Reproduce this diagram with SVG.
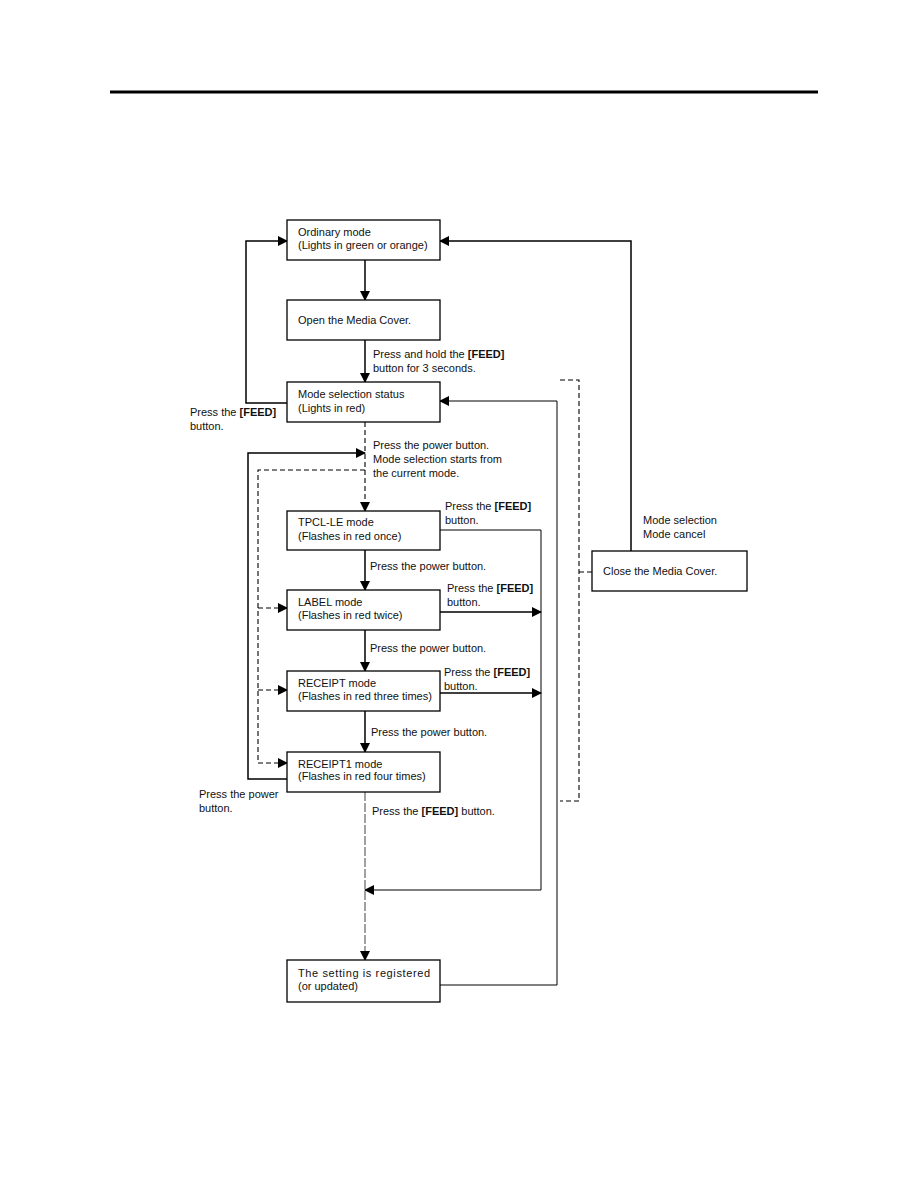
<svg xmlns="http://www.w3.org/2000/svg" width="918" height="1188" viewBox="0 0 918 1188">
<defs>
<marker id="ah" markerWidth="10" markerHeight="10" refX="9" refY="5" orient="auto" markerUnits="userSpaceOnUse">
<path d="M0,0 L10,5 L0,10 Z" fill="#000"/>
</marker>
<style>
text{font-family:"Liberation Sans",Arial,sans-serif;font-size:11px;fill:#111}
.b{font-weight:bold}
rect{fill:#fff;stroke:#000;stroke-width:1.3}
.s{fill:none;stroke:#000;stroke-width:1.5}
.t{fill:none;stroke:#000;stroke-width:1}
.d{fill:none;stroke:#000;stroke-width:1.1;stroke-dasharray:5,3}
.dd{fill:none;stroke:#111;stroke-width:0.8;stroke-dasharray:9,2}
</style>
</defs>
<rect x="0" y="0" width="918" height="1188" style="fill:#fff;stroke:none"/>
<line x1="110" y1="92" x2="818" y2="92" stroke="#000" stroke-width="3"/>

<g id="connectors">
<line class="s" x1="365" y1="260" x2="365" y2="300" marker-end="url(#ah)"/>
<line class="s" x1="365" y1="340" x2="365" y2="382" marker-end="url(#ah)"/>
<polyline class="s" points="287,403 246,403 246,241 287,241" marker-end="url(#ah)"/>
<polyline class="s" points="631,551 631,241 440,241" marker-end="url(#ah)"/>
<polyline class="t" points="440,985 557,985 557,401 440,401" marker-end="url(#ah)"/>
<polyline class="d" points="560,380 579,380 579,801 560,801"/>
<line class="d" x1="579" y1="572" x2="592" y2="572"/>
<line class="d" x1="365" y1="422" x2="365" y2="511" marker-end="url(#ah)"/>
<polyline class="d" points="365,470 258,470 258,763 287,763" marker-end="url(#ah)"/>
<line class="d" x1="258" y1="608" x2="287" y2="608" marker-end="url(#ah)"/>
<line class="d" x1="258" y1="690" x2="287" y2="690" marker-end="url(#ah)"/>
<polyline class="s" points="287,779 248,779 248,453 365,453" marker-end="url(#ah)"/>
<line class="s" x1="365" y1="550" x2="365" y2="590" marker-end="url(#ah)"/>
<line class="s" x1="365" y1="630" x2="365" y2="671" marker-end="url(#ah)"/>
<line class="s" x1="365" y1="711" x2="365" y2="752" marker-end="url(#ah)"/>
<polyline class="t" points="440,530 541,530 541,890 365,890" marker-end="url(#ah)"/>
<line class="s" x1="440" y1="612" x2="541" y2="612" marker-end="url(#ah)"/>
<line class="s" x1="440" y1="693" x2="541" y2="693" marker-end="url(#ah)"/>
<line class="dd" x1="365" y1="792" x2="365" y2="960" marker-end="url(#ah)"/>
<text x="373" y="358">Press and hold the <tspan class="b">[FEED]</tspan></text>
<text x="373" y="372">button for 3 seconds.</text>
<text x="190" y="416">Press the <tspan class="b">[FEED]</tspan></text>
<text x="190" y="430">button.</text>
<text x="643" y="524">Mode selection</text>
<text x="643" y="538">Mode cancel</text>
<text x="373" y="449">Press the power button.</text>
<text x="373" y="463">Mode selection starts from</text>
<text x="373" y="477">the current mode.</text>
<text x="445" y="510">Press the <tspan class="b">[FEED]</tspan></text>
<text x="445" y="524">button.</text>
<text x="370" y="570">Press the power button.</text>
<text x="447" y="592">Press the <tspan class="b">[FEED]</tspan></text>
<text x="447" y="606">button.</text>
<text x="370" y="652">Press the power button.</text>
<text x="444" y="676">Press the <tspan class="b">[FEED]</tspan></text>
<text x="444" y="690">button.</text>
<text x="371" y="736">Press the power button.</text>
<text x="199" y="798">Press the power</text>
<text x="199" y="812">button.</text>
<text x="372" y="815">Press the <tspan class="b">[FEED]</tspan> button.</text>
</g>

<g id="ordinary"><rect x="287" y="220" width="153" height="40"/><text x="298" y="236">Ordinary mode</text><text x="298" y="249">(Lights in green or orange)</text></g>
<g id="open-cover"><rect x="287" y="300" width="153" height="40"/><text x="298" y="324">Open the Media Cover.</text></g>
<g id="mode-selection"><rect x="287" y="382" width="153" height="40"/><text x="298" y="398">Mode selection status</text><text x="298" y="412">(Lights in red)</text></g>
<g id="tpcl"><rect x="287" y="511" width="153" height="39"/><text x="298" y="526">TPCL-LE mode</text><text x="298" y="540">(Flashes in red once)</text></g>
<g id="label"><rect x="287" y="590" width="153" height="40"/><text x="298" y="606">LABEL mode</text><text x="298" y="619">(Flashes in red twice)</text></g>
<g id="receipt"><rect x="287" y="671" width="153" height="40"/><text x="298" y="687">RECEIPT mode</text><text x="298" y="700">(Flashes in red three times)</text></g>
<g id="receipt1"><rect x="287" y="752" width="153" height="40"/><text x="298" y="768">RECEIPT1 mode</text><text x="298" y="780">(Flashes in red four times)</text></g>
<g id="close-cover"><rect x="592" y="551" width="155" height="40"/><text x="603" y="575">Close the Media Cover.</text></g>
<g id="registered"><rect x="287" y="960" width="153" height="42"/><text x="298" y="977" textLength="132" lengthAdjust="spacing">The setting is registered</text><text x="298" y="990">(or updated)</text></g>
</svg>
